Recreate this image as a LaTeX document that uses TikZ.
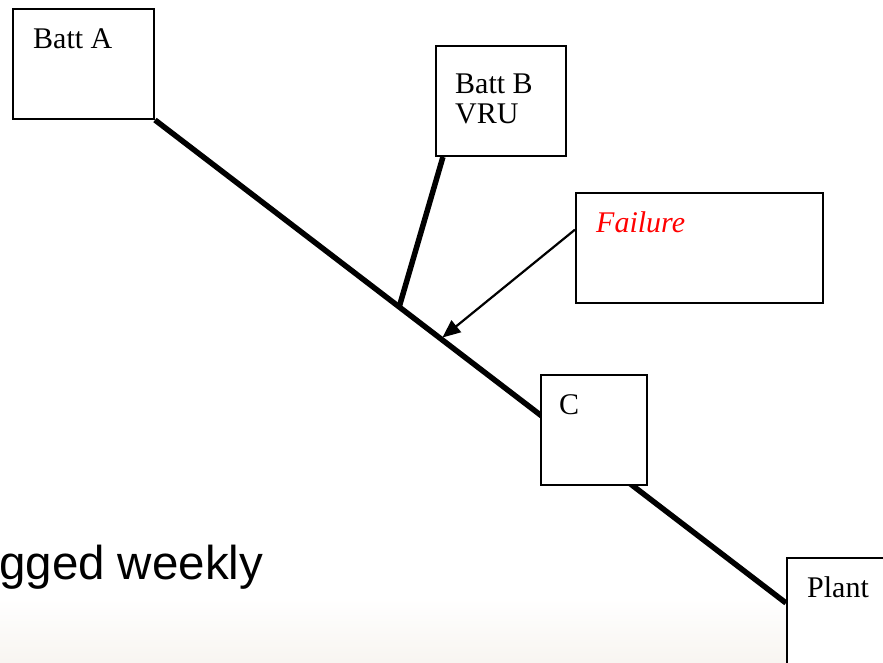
\documentclass[tikz,border=0pt]{standalone}
\usepackage{fontspec}
\setmainfont{Liberation Serif}
\newfontfamily\arialfont{Liberation Sans}
\usetikzlibrary{arrows.meta,calc,backgrounds}
\definecolor{failred}{RGB}{255,0,0}
\definecolor{sand}{RGB}{248,245,241}

\begin{document}
\begin{tikzpicture}[x=1pt,y=-1pt,
  box/.style={draw, line width=2pt, fill=white, anchor=north west, inner sep=0pt},
  lbl/.style={anchor=base west, inner sep=0pt, font=\fontsize{30}{30}\selectfont},
  wire/.style={line width=5.5pt},
  pointer/.style={line width=2.2pt, -{Triangle[length=18pt,width=15pt]}}]

\useasboundingbox (0,0) rectangle (883,662);
\clip (0,0) rectangle (883,662);

% boxes
\node[box, minimum width=141pt, minimum height=110pt] (battA) at (12,8) {};
\node[box, minimum width=130pt, minimum height=110pt] (battB) at (435,45) {};
\node[box, minimum width=247pt, minimum height=110pt] (fail) at (575,192) {};
\node[box, minimum width=106pt, minimum height=110pt] (cbox) at (540,374) {};
\node[box, minimum width=130pt, minimum height=130pt] (plant) at (786,557) {};

% box labels
\node[lbl] (tA) at (33,48) {Batt A};
\node[lbl, align=left] (tB) at (455,123) {Batt B\\VRU};
\node[lbl, text=failred, font=\fontsize{30}{30}\selectfont\itshape] (tF) at (596,232) {Failure};
\node[lbl] (tC) at (559,414) {C};
\node[lbl] (tP) at (807,597) {Plant};

% caption fragment
\node[anchor=base west, inner sep=0pt, font=\arialfont\fontsize{47.5}{48}\selectfont] (note) at (-1,579) {gged weekly};

\coordinate (pj) at (786,603);

\begin{scope}[on background layer]
  \shade[top color=white, bottom color=sand] (0,598) rectangle (883,662);
  % main feeder from Batt A to Plant, passing through C
  \draw[wire] (battA.south east) -- (pj);
  \coordinate (tapB) at ($(battA.south east)!0.387!(pj)$);
  \coordinate (hit) at ($(battA.south east)!0.453!(pj)$);
  % branch from Batt B
  \draw[wire] ($(battB.south west)!0.06!(battB.south east)$) -- (tapB);
\end{scope}

% failure pointer
\draw[pointer, shorten >=2pt] ($(fail.north west)!0.336!(fail.south west)$) -- (hit);

\end{tikzpicture}
\end{document}
